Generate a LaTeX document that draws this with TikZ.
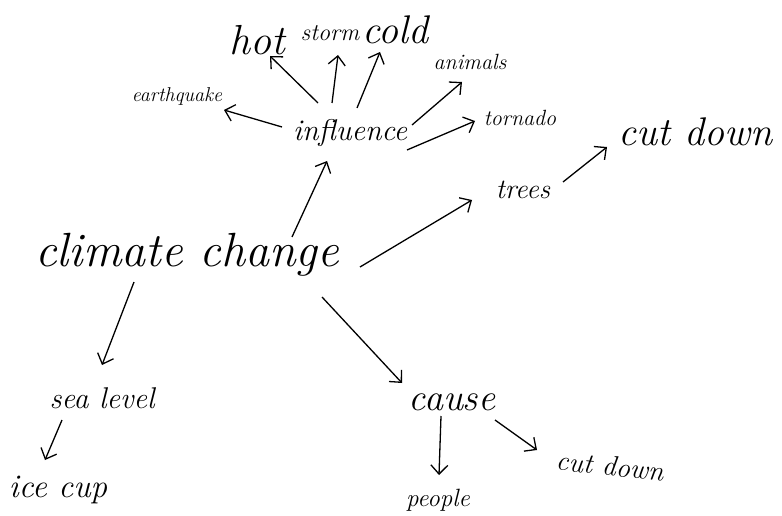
\documentclass[tikz,border=0pt]{standalone}
\usepackage{fontspec}
\usetikzlibrary{arrows.meta,calc}
\begin{document}
\begin{tikzpicture}[x=1pt,y=-1pt,
  lbl/.style={inner sep=0pt,font=\itshape},
  arr/.style={line width=1.3pt,-{Straight Barb[length=9pt,width=17pt,line width=1.3pt]}}]
\useasboundingbox[fill=white] (0,0) rectangle (782,516);
\newcommand{\fs}[1]{\fontsize{#1}{#1}\selectfont}
\node[lbl] (hot) at (257,40) {\fs{42}hot};
\node[lbl] (storm) at (330,33) {\fs{24}storm};
\node[lbl] (cold) at (395,30) {\fs{40}cold};
\node[lbl] (animals) at (470,62) {\fs{22}animals};
\node[lbl] (eq) at (177,97) {\fs{20}earthquake};
\node[lbl] (inf) at (350,133) {\fs{30}influence};
\node[lbl] (torn) at (520,118) {\fs{22}tornado};
\node[lbl] (cd1) at (695,132) {\fs{40}cut down};
\node[lbl] (trees) at (523,190) {\fs{28}trees};
\node[lbl] (cc) at (187,255) {\fs{48}climate change};
\node[lbl] (sl) at (102,398) {\fs{30}sea level};
\node[lbl] (ic) at (58,490) {\fs{33}ice cup};
\node[lbl] (cause) at (452,402) {\fs{38}cause};
\node[lbl] (people) at (438,500) {\fs{25}people};
\node[lbl,rotate=-6] (cd2) at (610,466) {\fs{28}cut down};

\draw[arr] ([shift={(-32,-30)}]inf.center) -- ([shift={(13,16)}]hot.center);
\draw[arr] ([shift={(-18,-30)}]inf.center) -- ([shift={(8,22)}]storm.center);
\draw[arr] ([shift={(7,-25)}]inf.center) -- ([shift={(-15,22)}]cold.center);
\draw[arr] ([shift={(-68,-6)}]inf.center) -- ([shift={(47,13)}]eq.center);
\draw[arr] ([shift={(62,-8)}]inf.center) -- ([shift={(-8,20)}]animals.center);
\draw[arr] ([shift={(57,17)}]inf.center) -- ([shift={(-45,3)}]torn.center);
\draw[arr] ([shift={(105,-18)}]cc.center) -- ([shift={(-23,28)}]inf.center);
\draw[arr] ([shift={(173,12)}]cc.center) -- ([shift={(-51,10)}]trees.center);
\draw[arr] ([shift={(40,-8)}]trees.center) -- ([shift={(-88,15)}]cd1.center);
\draw[arr] ([shift={(-53,27)}]cc.center) -- ([shift={(0,-33)}]sl.center);
\draw[arr] ([shift={(135,42)}]cc.center) -- ([shift={(-50,-19)}]cause.center);
\draw[arr] ([shift={(-40,22)}]sl.center) -- ([shift={(-13,-30)}]ic.center);
\draw[arr] ([shift={(-11,14)}]cause.center) -- ([shift={(1,-25)}]people.center);
\draw[arr] ([shift={(43,18)}]cause.center) -- ([shift={(-73,-16)}]cd2.center);
\end{tikzpicture}
\end{document}
